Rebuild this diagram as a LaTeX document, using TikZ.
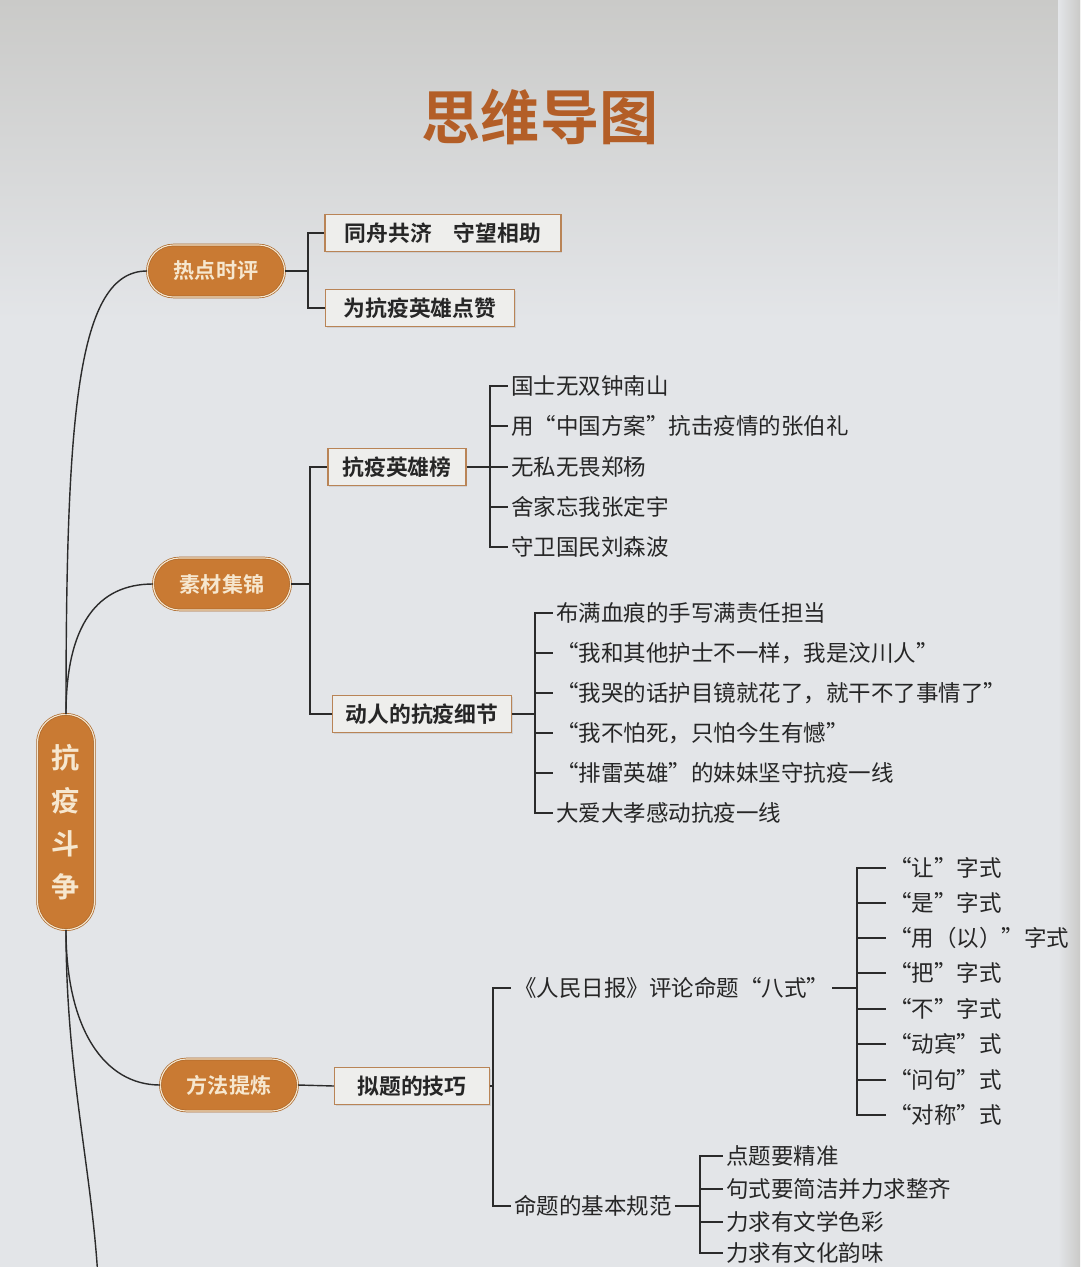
\documentclass[tikz,border=0pt]{standalone}
\usepackage{fontspec}
\setmainfont{Noto Sans CJK SC}[BoldFont={Noto Sans CJK SC Bold}]
\usetikzlibrary{shadows}

\definecolor{fond}{HTML}{E3E5E8}
\definecolor{fondhaut}{HTML}{CACAC8}
\definecolor{orangeP}{HTML}{C97A33}
\definecolor{creme}{HTML}{F6E7CF}
\definecolor{titre}{HTML}{B35E27}
\definecolor{trait}{HTML}{2B2B2B}
\definecolor{bordure}{HTML}{B98456}
\definecolor{boitefond}{HTML}{EEEEEC}

\tikzset{
  pilule/.style={rectangle, rounded corners=0.65cm, minimum width=3.43cm, minimum height=1.3cm,
    fill=orangeP, draw=orangeP!85!black, double=creme, double distance=0.8pt, line width=0.5pt,
    text=creme, font=\bfseries\fontsize{15}{18}\selectfont},
  racine/.style={pilule, rounded corners=0.7cm, minimum width=1.42cm, minimum height=5.38cm,
    align=center, font=\bfseries\fontsize{20}{30.5}\selectfont},
  boite/.style={rectangle, fill=boitefond, draw=bordure, line width=0.8pt, minimum height=0.93cm,
    text=black!85, font=\bfseries\fontsize{15.5}{18}\selectfont,
    drop shadow={shadow xshift=0.8pt, shadow yshift=-0.8pt, fill=black!25}},
  feuille/.style={anchor=west, inner sep=2pt, text=black!85, font=\fontsize{16}{18}\selectfont},
  lien/.style={draw=trait, line width=1pt},
}

\begin{document}
\begin{tikzpicture}[x=0.025cm, y=-0.025cm]
	%Fond de page
	\useasboundingbox (0,0) rectangle (1080,1267);
	\fill[fond] (0,0) rectangle (1080,1267);
	\shade[top color=fondhaut, bottom color=fond] (0,0) rectangle (1080,320);
	\shade[left color=fond, right color=fondhaut] (1058,0) rectangle (1080,1267);

	%Titre
	\node[text=titre, font=\bfseries\fontsize{42}{46}\selectfont] (TITRE) at (540,117) {思维导图};

	%Noeuds principaux
	\node[racine] (KYDZ) at (66,822) {抗\\疫\\斗\\争};
	\node[pilule] (RDSP) at (216,271) {热点时评};
	\node[pilule] (SCJJ) at (222,584) {素材集锦};
	\node[pilule] (FFTL) at (229,1085) {方法提炼};

	%Boites
	\node[boite, minimum width=5.9cm] (TZGJ) at (443,233) {同舟共济\quad 守望相助};
	\node[boite, minimum width=4.73cm] (WKYX) at (420,308) {为抗疫英雄点赞};
	\node[boite, minimum width=3.45cm] (KYYXB) at (397,467) {抗疫英雄榜};
	\node[boite, minimum width=4.48cm] (DRXJ) at (422,714) {动人的抗疫细节};
	\node[boite, minimum width=3.88cm] (NTJQ) at (412,1086) {拟题的技巧};

	%Feuilles : 抗疫英雄榜
	\node[feuille] (ZNS) at (508,386) {国士无双钟南山};
	\node[feuille] (ZBL) at (508,426) {用“中国方案”抗击疫情的张伯礼};
	\node[feuille] (ZY) at (508,467) {无私无畏郑杨};
	\node[feuille] (ZDY) at (508,507) {舍家忘我张定宇};
	\node[feuille] (LSB) at (508,547) {守卫国民刘森波};

	%Feuilles : 动人的抗疫细节
	\node[feuille] (XH) at (553,613) {布满血痕的手写满责任担当};
	\node[feuille] (WC) at (553,653) {“我和其他护士不一样，我是汶川人”};
	\node[feuille] (HMJ) at (553,693) {“我哭的话护目镜就花了，就干不了事情了”};
	\node[feuille] (BPS) at (553,733) {“我不怕死，只怕今生有憾”};
	\node[feuille] (PLYX) at (553,773) {“排雷英雄”的妹妹坚守抗疫一线};
	\node[feuille] (DADX) at (553,813) {大爱大孝感动抗疫一线};

	%Feuilles : 拟题的技巧
	\node[feuille] (RMRB) at (511,988) {《人民日报》评论命题“八式”};
	\node[feuille] (MTGF) at (511,1206) {命题的基本规范};

	\node[feuille] (S1) at (886,868) {“让”字式};
	\node[feuille] (S2) at (886,903) {“是”字式};
	\node[feuille] (S3) at (886,938) {“用（以）”字式};
	\node[feuille] (S4) at (886,973) {“把”字式};
	\node[feuille] (S5) at (886,1009) {“不”字式};
	\node[feuille] (S6) at (886,1044) {“动宾”式};
	\node[feuille] (S7) at (886,1080) {“问句”式};
	\node[feuille] (S8) at (886,1115) {“对称”式};

	\node[feuille] (G1) at (723,1156) {点题要精准};
	\node[feuille] (G2) at (723,1189) {句式要简洁并力求整齐};
	\node[feuille] (G3) at (723,1222) {力求有文学色彩};
	\node[feuille] (G4) at (723,1253) {力求有文化韵味};

	%Branches du tronc
	\coordinate (SUITE) at (99,1300);
	\draw[lien] (KYDZ.north) .. controls +(0,-300) and +(-70,0) .. (RDSP.west);
	\draw[lien] (KYDZ.north) .. controls +(0,-90) and +(-55,0) .. (SCJJ.west);
	\draw[lien] (KYDZ.south) .. controls +(0,100) and +(-55,0) .. (FFTL.west);
	\draw[lien] (KYDZ.south) .. controls +(0,150) and +(-4,-120) .. (SUITE);

	%Accolades
	\coordinate (F1) at (308,271);
	\draw[lien] (RDSP.east) -- (F1);
	\draw[lien] (F1) |- (TZGJ.west);
	\draw[lien] (F1) |- (WKYX.west);

	\coordinate (F2) at (310,584);
	\draw[lien] (SCJJ.east) -- (F2);
	\draw[lien] (F2) |- (KYYXB.west);
	\draw[lien] (F2) |- (DRXJ.west);

	\coordinate (F3) at (490,467);
	\draw[lien] (KYYXB.east) -- (F3);
	\draw[lien] (F3) |- (ZNS.west);
	\draw[lien] (F3) |- (ZBL.west);
	\draw[lien] (F3) |- (ZY.west);
	\draw[lien] (F3) |- (ZDY.west);
	\draw[lien] (F3) |- (LSB.west);

	\coordinate (F4) at (535,714);
	\draw[lien] (DRXJ.east) -- (F4);
	\draw[lien] (F4) |- (XH.west);
	\draw[lien] (F4) |- (WC.west);
	\draw[lien] (F4) |- (HMJ.west);
	\draw[lien] (F4) |- (BPS.west);
	\draw[lien] (F4) |- (PLYX.west);
	\draw[lien] (F4) |- (DADX.west);

	\coordinate (F5) at (493,1086);
	\draw[lien] (FFTL.east) -- (NTJQ.west);
	\draw[lien] (NTJQ.east) -- (F5);
	\draw[lien] (F5) |- (RMRB.west);
	\draw[lien] (F5) |- (MTGF.west);

	\coordinate (F6) at (857,988);
	\draw[lien] (RMRB.east) -- (F6);
	\draw[lien] (F6) |- (S1.west);
	\draw[lien] (F6) |- (S2.west);
	\draw[lien] (F6) |- (S3.west);
	\draw[lien] (F6) |- (S4.west);
	\draw[lien] (F6) |- (S5.west);
	\draw[lien] (F6) |- (S6.west);
	\draw[lien] (F6) |- (S7.west);
	\draw[lien] (F6) |- (S8.west);

	\coordinate (F7) at (700,1206);
	\draw[lien] (MTGF.east) -- (F7);
	\draw[lien] (F7) |- (G1.west);
	\draw[lien] (F7) |- (G2.west);
	\draw[lien] (F7) |- (G3.west);
	\draw[lien] (F7) |- (G4.west);
\end{tikzpicture}
\end{document}
